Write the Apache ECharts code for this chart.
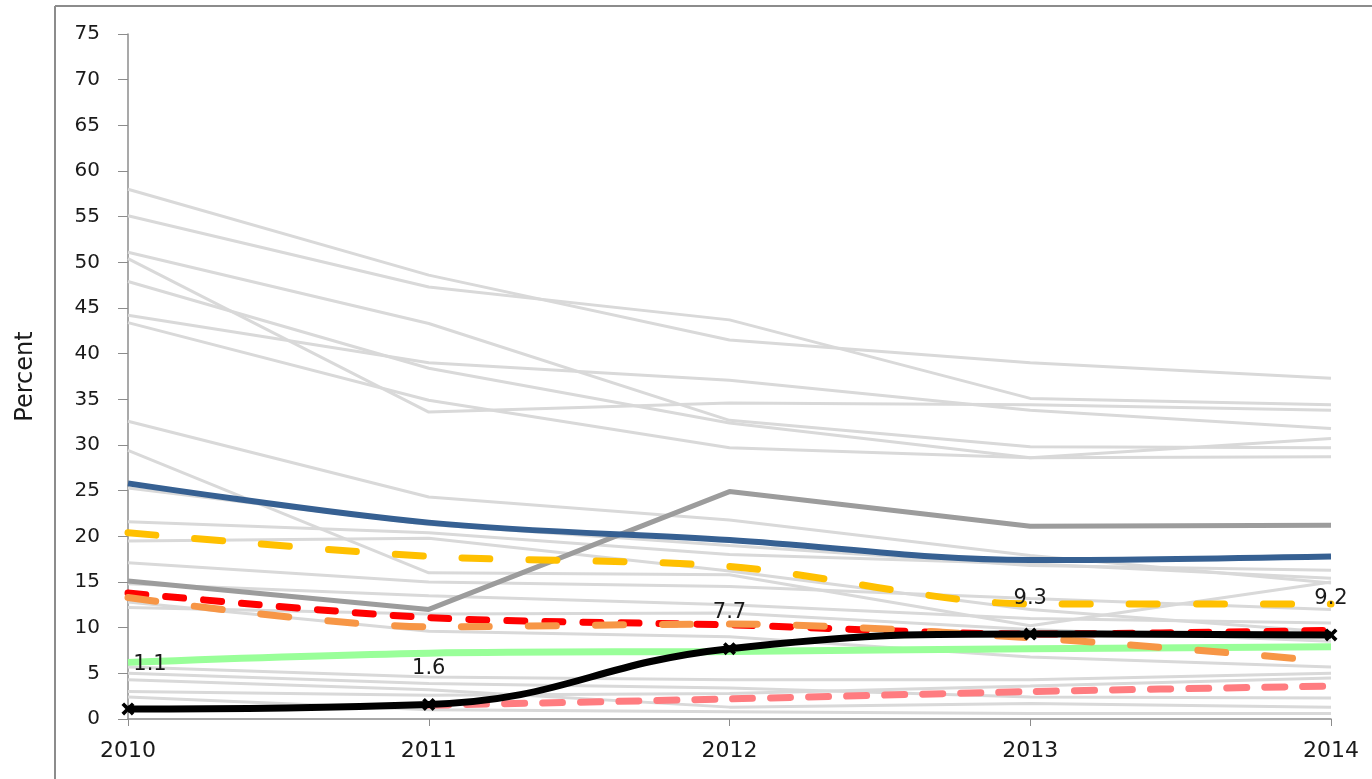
<!DOCTYPE html>
<html>
<head>
<meta charset="utf-8">
<script src="https://cdn.jsdelivr.net/npm/echarts@6/dist/echarts.min.js"></script>
<style>
html,body{margin:0;padding:0;background:#fff;}
#chart{width:1372px;height:779px;}
</style>
</head>
<body>
<div id="chart"></div>
<script>
const years = ['2010', '2011', '2012', '2013', '2014'];
const yTicks = { min: 0, max: 75, interval: 5 };
const axisName = 'Percent';

// Background (grey) series
const grey01 = [58.0, 48.6, 41.5, 39.0, 37.3];
const grey02 = [55.1, 47.3, 43.7, 35.1, 34.4];
const grey03 = [51.1, 43.3, 32.7, 29.8, 29.7];
const grey04 = [50.4, 33.6, 34.6, 34.4, 33.8];
const grey05 = [47.9, 38.4, 32.4, 28.6, 30.7];
const grey06 = [44.2, 39.0, 37.1, 33.8, 31.8];
const grey07 = [43.4, 34.9, 29.7, 28.6, 28.7];
const grey08 = [32.6, 24.3, 21.8, 17.9, 14.9];
const grey09 = [29.4, 16.0, 15.8, 10.2, 15.0];
const grey10 = [25.3, 21.3, 19.0, 16.8, 16.3];
const grey11 = [21.6, 20.4, 18.0, 17.0, 15.4];
const grey12 = [19.5, 19.8, 16.2, 12.0, 9.5];
const grey13 = [17.1, 15.0, 14.5, 13.2, 12.0];
const grey14 = [14.8, 13.5, 12.5, 11.0, 10.5];
const grey15 = [12.8, 9.6, 9.0, 6.8, 5.7];
const grey16 = [12.2, 11.5, 11.6, 9.8, 8.5];
const grey17 = [5.7, 4.6, 4.3, 4.3, 5.0];
const grey18 = [5.0, 3.9, 3.4, 2.4, 2.3];
const grey19 = [4.3, 3.2, 1.3, 1.7, 1.3];
const grey20 = [3.0, 2.6, 2.8, 3.6, 4.5];
const grey21 = [2.4, 1.0, 0.8, 0.6, 0.6];

// Highlighted series
const darkGrey = [15.1, 12.0, 24.9, 21.1, 21.2];
const blue     = [25.8, 21.5, 19.6, 17.4, 17.8];
const green    = [6.2, 7.2, 7.4, 7.7, 7.9];
const yellow   = [20.4, 17.8, 16.7, 12.6, 12.6];
const red      = [13.8, 11.1, 10.3, 9.3, 9.7];
const orange   = [13.3, 10.1, 10.4, 8.9, 6.3];
const pink     = [null, 1.5, 2.2, 3.0, 3.6];
const black    = [1.1, 1.6, 7.7, 9.3, 9.2];

const greys = [grey01, grey02, grey03, grey04, grey05, grey06, grey07, grey08, grey09, grey10,
  grey11, grey12, grey13, grey14, grey15, grey16, grey17, grey18, grey19, grey20, grey21];

const FONT = 'DejaVu Sans';
const series = [];
greys.forEach((d, i) => {
  series.push({
    name: 'g' + i, type: 'line', data: d, symbol: 'none', silent: true,
    lineStyle: { color: '#d9d9d9', width: 3 }, z: 1
  });
});
function hl(name, data, color, width, dash, smooth, z) {
  return {
    name, type: 'line', data, symbol: 'none', silent: true, smooth: smooth,
    lineStyle: { color, width, type: dash || 'solid', cap: dash ? 'round' : 'butt' },
    z: z
  };
}
series.push(hl('darkGrey', darkGrey, '#9c9c9c', 5, null, false, 2));
series.push(hl('blue', blue, '#366092', 6, null, 0.35, 3));
series.push(hl('green', green, '#99ff99', 7, null, 0.35, 3));
series.push(hl('yellow', yellow, '#ffc000', 7, [28, 39], 0.3, 4));
series.push(hl('red', red, '#ff0000', 7, [18, 20], 0.3, 4));
series.push(hl('orange', orange, '#f79646', 7, [28, 39], 0.3, 5));
series.push(hl('pink', pink, '#ff7c80', 7, [20, 18], 0.3, 5));

const crossPath = 'path://M2,0 L5,3 L8,0 L10,2 L7,5 L10,8 L8,10 L5,7 L2,10 L0,8 L3,5 L0,2 Z';
series.push({
  name: 'black', type: 'line', smooth: 0.45, silent: true, z: 10,
  data: black.map((v, i) => i === 0 ? { value: v, label: { offset: [22, -8] } } : v),
  symbol: crossPath, symbolSize: 13, showAllSymbol: true,
  itemStyle: { color: '#000' },
  lineStyle: { color: '#000', width: 7 },
  label: { show: true, position: 'top', distance: 19, color: '#1a1a1a', fontSize: 21, fontFamily: FONT,
    formatter: p => p.value.toFixed(1) }
});

const chart = echarts.init(document.getElementById('chart'), null, { renderer: 'canvas' });
chart.setOption({
  animation: false,
  backgroundColor: '#fff',
  grid: { left: 128, right: 41, top: 34, bottom: 60 },
  graphic: [
    { type: 'line', shape: { x1: 55, y1: 6, x2: 55, y2: 779 }, style: { stroke: '#8c8c8c', lineWidth: 2 }, silent: true },
    { type: 'line', shape: { x1: 55, y1: 6, x2: 1372, y2: 6 }, style: { stroke: '#8c8c8c', lineWidth: 2 }, silent: true }
  ],
  xAxis: {
    type: 'category', data: years, boundaryGap: false,
    axisLine: { lineStyle: { color: '#8c8c8c', width: 1.5 } },
    axisTick: { show: true, length: 7, lineStyle: { color: '#8c8c8c' } },
    axisLabel: { color: '#1a1a1a', fontSize: 22, fontFamily: FONT, margin: 21 },
    splitLine: { show: false }
  },
  yAxis: {
    type: 'value', min: yTicks.min, max: yTicks.max, interval: yTicks.interval,
    name: axisName, nameLocation: 'middle', nameGap: 90, nameRotate: 90,
    nameTextStyle: { color: '#1a1a1a', fontSize: 24, fontFamily: FONT },
    axisLine: { show: true, lineStyle: { color: '#8c8c8c', width: 1.5 } },
    axisTick: { show: true, length: 10, inside: false, lineStyle: { color: '#8c8c8c' } },
    axisLabel: { color: '#1a1a1a', fontSize: 20, fontFamily: FONT, margin: 28 },
    splitLine: { show: false }
  },
  series
});
</script>
</body>
</html>
